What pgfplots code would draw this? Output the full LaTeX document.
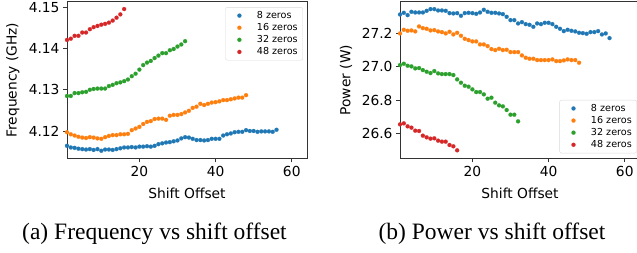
\documentclass[border=0pt]{standalone}
\usepackage{pgfplots}
\pgfplotsset{compat=1.18}
\usepackage{fontspec}
\setmainfont{Liberation Serif}
\newfontfamily\dejavu{DejaVu Sans}
\definecolor{tabblue}{HTML}{1F77B4}
\definecolor{taborange}{HTML}{FF7F0E}
\definecolor{tabgreen}{HTML}{2CA02C}
\definecolor{tabred}{HTML}{D62728}
\newcommand\lblfont{\dejavu\fontsize{13.8bp}{15bp}\selectfont}
\pgfplotsset{
  myaxis/.style={
    scale only axis, width=240bp, height=156.5bp,
    xmin=1, xmax=64, xtick={20,40,60},
    tick pos=left, tick align=outside, major tick length=4bp,
    axis line style={black!80, line width=0.9bp},
    every tick/.style={black!80, line width=0.9bp},
    /pgf/number format/assume math mode=true,
    tick label style={font=\lblfont},
    xlabel={Shift Offset},
    every axis x label/.style={at={(axis description cs:0.5,-0.256)}, anchor=base, font=\lblfont},
    legend style={font=\dejavu\fontsize{9.6bp}{11bp}\selectfont, draw=black!15, rounded corners=2bp, fill=white, inner xsep=3bp, inner ysep=2bp, row sep=-0.5bp},
    legend cell align=left,
    legend image code/.code={\path (0bp,0bp) (26bp,0bp); \draw[##1] plot coordinates {(10.7bp,0bp)};},
  },
  pts/.style={only marks, mark=*, mark size=2bp, draw=#1, fill=#1, mark options={draw=#1, fill=#1, draw opacity=0.6}},
}
\begin{document}
\begin{tikzpicture}[x=1bp,y=1bp]
\path[use as bounding box] (0,0) rectangle (637,252);
\begin{axis}[myaxis, at={(67bp,93.7bp)}, anchor=south west,
  ymin=4.11337, ymax=4.15136, ytick={4.12,4.13,4.14,4.15},
  yticklabel style={/pgf/number format/fixed, /pgf/number format/precision=2, /pgf/number format/fixed zerofill},
  ylabel={Frequency (GHz)},
  every axis y label/.style={at={(axis description cs:-0.226,0.5)}, rotate=90, anchor=center, font=\lblfont},
  legend style={at={(axis description cs:0.983,0.966)}, anchor=north east},
]
\addplot[pts=tabblue] table {
1 4.1164
2 4.1160
3 4.1159
4 4.1157
5 4.1156
6 4.1155
7 4.1156
8 4.1154
9 4.1156
10 4.1152
11 4.1155
12 4.1155
13 4.1154
14 4.1156
15 4.1158
16 4.1160
17 4.1160
18 4.1161
19 4.1160
20 4.1162
21 4.1162
22 4.1163
23 4.1162
24 4.1164
25 4.1168
26 4.1170
27 4.1172
28 4.1173
29 4.1175
30 4.1177
31 4.1182
32 4.1185
33 4.1184
34 4.1181
35 4.1178
36 4.1178
37 4.1177
38 4.1178
39 4.1181
40 4.1181
41 4.1181
42 4.1189
43 4.1192
44 4.1194
45 4.1197
46 4.1198
47 4.1198
48 4.1202
49 4.1200
50 4.1200
51 4.1198
52 4.1199
53 4.1199
54 4.1199
55 4.1198
56 4.1203
};
\addlegendentry{8 zeros}
\addplot[pts=taborange] table {
1 4.1197
2 4.1192
3 4.1189
4 4.1186
5 4.1184
6 4.1183
7 4.1185
8 4.1184
9 4.1182
10 4.1181
11 4.1185
12 4.1188
13 4.1190
14 4.1190
15 4.1192
16 4.1192
17 4.1193
18 4.1202
19 4.1206
20 4.1210
21 4.1217
22 4.1222
23 4.1224
24 4.1229
25 4.1230
26 4.1230
27 4.1227
28 4.1237
29 4.1239
30 4.1239
31 4.1241
32 4.1245
33 4.1249
34 4.1256
35 4.1259
36 4.1266
37 4.1263
38 4.1266
39 4.1269
40 4.1270
41 4.1272
42 4.1275
43 4.1275
44 4.1277
45 4.1279
46 4.1281
47 4.1281
48 4.1287
};
\addlegendentry{16 zeros}
\addplot[pts=tabgreen] table {
1 4.1285
2 4.1285
3 4.1292
4 4.1292
5 4.1294
6 4.1295
7 4.1300
8 4.1302
9 4.1303
10 4.1303
11 4.1303
12 4.1309
13 4.1312
14 4.1316
15 4.1318
16 4.1321
17 4.1325
18 4.1333
19 4.1339
20 4.1349
21 4.1360
22 4.1366
23 4.1370
24 4.1377
25 4.1383
26 4.1389
27 4.1389
28 4.1396
29 4.1399
30 4.1405
31 4.1410
32 4.1418
};
\addlegendentry{32 zeros}
\addplot[pts=tabred] table {
1 4.1421
2 4.1424
3 4.1431
4 4.1431
5 4.1439
6 4.1439
7 4.1447
8 4.1452
9 4.1455
10 4.1458
11 4.1460
12 4.1463
13 4.1468
14 4.1475
15 4.1483
16 4.1496
};
\addlegendentry{48 zeros}
\end{axis}
\begin{axis}[myaxis, at={(400bp,93.7bp)}, anchor=south west,
  ymin=26.45, ymax=27.39, ytick={26.6,26.8,27.0,27.2},
  yticklabel style={/pgf/number format/fixed, /pgf/number format/precision=1, /pgf/number format/fixed zerofill},
  ylabel={Power (W)},
  every axis y label/.style={at={(axis description cs:-0.225,0.5)}, rotate=90, anchor=center, font=\lblfont},
  legend style={at={(axis description cs:0.9875,0.032)}, anchor=south east},
]
\addplot[pts=tabblue] table {
1 27.314
2 27.324
3 27.310
4 27.330
5 27.326
6 27.326
7 27.326
8 27.336
9 27.346
10 27.346
11 27.338
12 27.338
13 27.336
14 27.322
15 27.320
16 27.322
17 27.306
18 27.322
19 27.324
20 27.322
21 27.318
22 27.326
23 27.342
24 27.330
25 27.324
26 27.324
27 27.320
28 27.316
29 27.300
30 27.280
31 27.280
32 27.260
33 27.268
34 27.256
35 27.252
36 27.240
37 27.260
38 27.256
39 27.264
40 27.264
41 27.256
42 27.240
43 27.228
44 27.214
45 27.222
46 27.216
47 27.212
48 27.204
49 27.202
50 27.198
51 27.208
52 27.208
53 27.214
54 27.194
55 27.200
56 27.172
};
\addlegendentry{8 zeros}
\addplot[pts=taborange] table {
1 27.200
2 27.222
3 27.216
4 27.218
5 27.212
6 27.242
7 27.232
8 27.228
9 27.218
10 27.220
11 27.212
12 27.208
13 27.200
14 27.210
15 27.194
16 27.204
17 27.186
18 27.168
19 27.160
20 27.152
21 27.152
22 27.134
23 27.134
24 27.124
25 27.106
26 27.100
27 27.108
28 27.100
29 27.102
30 27.088
31 27.088
32 27.088
33 27.068
34 27.054
35 27.048
36 27.048
37 27.040
38 27.040
39 27.040
40 27.040
41 27.044
42 27.034
43 27.034
44 27.038
45 27.044
46 27.040
47 27.040
48 27.024
};
\addlegendentry{16 zeros}
\addplot[pts=tabgreen] table {
1 27.010
2 27.018
3 27.006
4 27.002
5 26.990
6 26.992
7 26.980
8 26.970
9 26.962
10 26.974
11 26.960
12 26.956
13 26.956
14 26.956
15 26.950
16 26.924
17 26.904
18 26.886
19 26.880
20 26.864
21 26.848
22 26.848
23 26.834
24 26.808
25 26.814
26 26.784
27 26.768
28 26.762
29 26.740
30 26.712
31 26.712
32 26.672
};
\addlegendentry{32 zeros}
\addplot[pts=tabred] table {
1 26.654
2 26.660
3 26.642
4 26.634
5 26.616
6 26.614
7 26.586
8 26.576
9 26.568
10 26.570
11 26.556
12 26.550
13 26.550
14 26.530
15 26.522
16 26.498
};
\addlegendentry{48 zeros}
\end{axis}
\node[anchor=base, font=\fontsize{23.5bp}{26bp}\selectfont, inner sep=0pt] at (154.5,12.7) {(a) Frequency vs shift offset};
\node[anchor=base, font=\fontsize{23.5bp}{26bp}\selectfont, inner sep=0pt] at (492,12.7) {(b) Power vs shift offset};
\end{tikzpicture}
\end{document}
